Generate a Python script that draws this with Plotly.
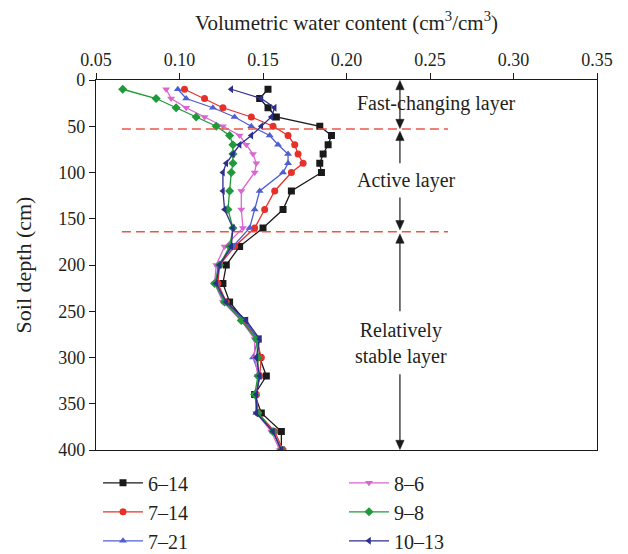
import plotly.graph_objects as go

depth = [10, 20, 30, 40, 50, 60, 70, 80, 90, 100, 120, 140, 160, 180,
         200, 220, 240, 260, 280, 300, 320, 340, 360, 380, 400]

s_6_14 = [0.153, 0.148, 0.153, 0.158, 0.184, 0.191, 0.189, 0.186, 0.184, 0.185,
          0.167, 0.162, 0.150, 0.136, 0.128, 0.126, 0.130, 0.139, 0.147, 0.148,
          0.152, 0.145, 0.149, 0.161, 0.161]
s_7_14 = [0.103, 0.115, 0.126, 0.143, 0.156, 0.165, 0.169, 0.171, 0.174, 0.167,
          0.157, 0.151, 0.145, 0.133, 0.124, 0.123, 0.128, 0.138, 0.146, 0.149,
          0.148, 0.146, 0.147, 0.157, 0.162]
s_7_21 = [0.099, 0.104, 0.120, 0.133, 0.143, 0.154, 0.159, 0.165, 0.165, 0.162,
          0.148, 0.145, 0.142, 0.132, 0.123, 0.122, 0.127, 0.139, 0.147, 0.144,
          0.148, 0.146, 0.146, 0.156, 0.161]
s_8_6 = [0.092, 0.095, 0.104, 0.115, 0.126, 0.136, 0.140, 0.144, 0.146, 0.145,
         0.137, 0.137, 0.138, 0.127, 0.122, 0.121, 0.126, 0.137, 0.145, 0.145,
         0.147, 0.146, 0.146, 0.155, 0.160]
s_9_8 = [0.066, 0.086, 0.098, 0.110, 0.122, 0.130, 0.132, 0.132, 0.132, 0.131,
         0.130, 0.129, 0.132, 0.130, 0.124, 0.121, 0.127, 0.137, 0.146, 0.147,
         0.147, 0.145, 0.147, 0.156, 0.161]
s_10_13 = [0.131, 0.149, 0.157, 0.155, 0.149, 0.143, 0.136, 0.132, 0.128, 0.126,
           0.126, 0.127, 0.132, 0.131, 0.124, 0.122, 0.128, 0.140, 0.148, 0.146,
           0.148, 0.146, 0.146, 0.156, 0.161]

series_names = ["6\u201314", "7\u201314", "7\u201321", "8\u20136", "9\u20138", "10\u201313"]
series_vals = [s_6_14, s_7_14, s_7_21, s_8_6, s_9_8, s_10_13]
colors = ["#1a1a1a", "#e8302a", "#4f5fd0", "#d966cf", "#1f9a3a", "#2e2e8f"]
symbols = ["square", "circle", "triangle-up", "triangle-down", "diamond", "triangle-left"]
legends = ["legend", "legend", "legend", "legend2", "legend2", "legend2"]

layer_bounds = [53, 164]
layer_labels = ["Fast-changing layer", "Active layer", "Relatively<br>stable layer"]

FONT = "Liberation Serif, Times New Roman, serif"
INK = "#231f20"
fig = go.Figure()
for name, vals, c, sym, lg in zip(series_names, series_vals, colors, symbols, legends):
    fig.add_trace(go.Scatter(
        x=vals, y=depth, mode="lines+markers", name=name,
        line=dict(color=c, width=1.3),
        marker=dict(symbol=sym, size=7, color=c),
        legend=lg,
    ))

for b in layer_bounds:
    fig.add_shape(type="line", xref="x", yref="y", x0=0.0655, x1=0.2608, y0=b, y1=b,
                  line=dict(color="#e9574a", width=1.6, dash="9px,5px"))

# vertical arrow segments (layout decoration)
AX = 0.232
HW = 0.0025   # half width of arrowhead (x units)
HL = 10.0     # arrowhead length (depth units)
segments = [(0.5, 52.5), (55.5, 92), (125, 162), (166.5, 252), (316, 399.5)]
heads = [(0.5, "up"), (52.5, "down"), (55.5, "up"), (162, "down"), (166.5, "up"), (399.5, "down")]
for y0, y1 in segments:
    fig.add_shape(type="line", xref="x", yref="y", x0=AX, x1=AX, y0=y0 + 2, y1=y1 - 2,
                  line=dict(color="#1a1a1a", width=1.2))
for tip, d in heads:
    base = tip + HL if d == "up" else tip - HL
    fig.add_shape(type="path", xref="x", yref="y",
                  path=f"M {AX},{tip} L {AX - HW},{base} L {AX + HW},{base} Z",
                  fillcolor="#1a1a1a", line=dict(color="#1a1a1a", width=0.5))

txt_font = dict(family=FONT, size=20, color=INK)
fig.add_annotation(x=0.2536, y=25, xref="x", yref="y", text=layer_labels[0],
                   showarrow=False, font=txt_font)
fig.add_annotation(x=0.236, y=108.6, xref="x", yref="y", text=layer_labels[1],
                   showarrow=False, font=txt_font)
fig.add_annotation(x=0.2325, y=285, xref="x", yref="y", text=layer_labels[2],
                   showarrow=False, font=txt_font)

fig.update_layout(
    width=628, height=580,
    margin=dict(l=88, r=39, t=72, b=138),
    paper_bgcolor="white", plot_bgcolor="white",
    font=dict(family=FONT, size=18, color=INK),
    legend=dict(x=0.004, y=-0.036, xanchor="left", yanchor="top",
                font=dict(family=FONT, size=20, color=INK), tracegroupgap=0,
                itemwidth=40, bgcolor="rgba(0,0,0,0)"),
    legend2=dict(x=0.495, y=-0.036, xanchor="left", yanchor="top",
                 font=dict(family=FONT, size=20, color=INK), tracegroupgap=0,
                 itemwidth=40, bgcolor="rgba(0,0,0,0)"),
    xaxis=dict(side="top", range=[0.05, 0.35], dtick=0.05, tick0=0.05, tickformat=".2f",
               showgrid=False, zeroline=False, showline=True, linecolor="#1a1a1a",
               linewidth=1.2, mirror=True, ticks="outside", ticklen=6, tickcolor="#1a1a1a",
               title=dict(text="Volumetric water content (cm<sup>3</sup>/cm<sup>3</sup>)",
                          font=dict(family=FONT, size=21, color=INK), standoff=16),
               tickfont=dict(family=FONT, size=18, color=INK)),
    yaxis=dict(range=[400, 0], dtick=50, tick0=0,
               showgrid=False, zeroline=False, showline=True, linecolor="#1a1a1a",
               linewidth=1.2, mirror=True, ticks="outside", ticklen=6, tickcolor="#1a1a1a",
               title=dict(text="Soil depth (cm)", font=dict(family=FONT, size=22, color=INK),
                          standoff=20),
               tickfont=dict(family=FONT, size=18, color=INK)),
)

fig.write_html("out.html")
